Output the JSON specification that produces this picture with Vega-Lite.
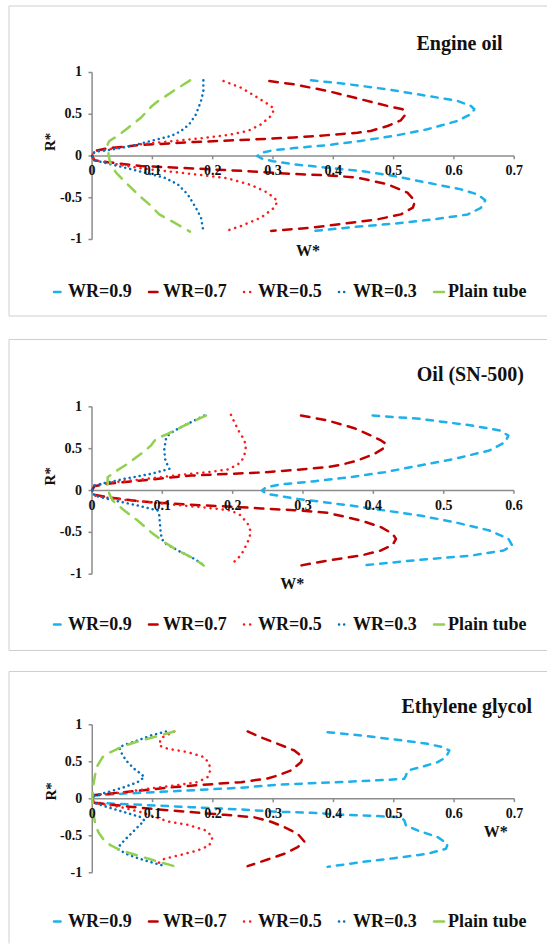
{
  "$schema": "https://vega.github.io/schema/vega-lite/v6.json",
  "background": "white",
  "padding": {"left": 8, "top": 5, "right": 0, "bottom": 0},
  "config": {
    "view": {"stroke": null},
    "axis": {"disable": true},
    "legend": {"labelFont": "Liberation Serif", "labelFontWeight": "bold", "labelFontSize": 18, "labelColor": "#111", "symbolType": "stroke", "symbolSize": 100, "symbolStrokeWidth": 2.5, "labelOffset": 0, "columnPadding": 12, "padding": 0},
    "text": {"font": "Liberation Serif", "fontWeight": "bold", "color": "#111"}
  },
  "resolve": {"scale": {"color": "independent", "strokeDash": "independent"}, "legend": {"color": "independent", "strokeDash": "independent"}},
  "datasets": {
    "one": [{}],
    "yt": [{"v": 1, "t": "1"}, {"v": 0.5, "t": "0.5"}, {"v": 0, "t": "0"}, {"v": -0.5, "t": "-0.5"}, {"v": -1, "t": "-1"}],
    "xt7": [{"v": 0, "t": "0"}, {"v": 0.1, "t": "0.1"}, {"v": 0.2, "t": "0.2"}, {"v": 0.3, "t": "0.3"}, {"v": 0.4, "t": "0.4"}, {"v": 0.5, "t": "0.5"}, {"v": 0.6, "t": "0.6"}, {"v": 0.7, "t": "0.7"}],
    "xt6": [{"v": 0, "t": "0"}, {"v": 0.1, "t": "0.1"}, {"v": 0.2, "t": "0.2"}, {"v": 0.3, "t": "0.3"}, {"v": 0.4, "t": "0.4"}, {"v": 0.5, "t": "0.5"}, {"v": 0.6, "t": "0.6"}],
    "oil": [
      {"s":"WR=0.9","w":0.363,"r":0.906},{"s":"WR=0.9","w":0.418,"r":0.866},{"s":"WR=0.9","w":0.49,"r":0.798},{"s":"WR=0.9","w":0.556,"r":0.72},{"s":"WR=0.9","w":0.606,"r":0.66},{"s":"WR=0.9","w":0.628,"r":0.6},{"s":"WR=0.9","w":0.634,"r":0.56},{"s":"WR=0.9","w":0.628,"r":0.5},{"s":"WR=0.9","w":0.606,"r":0.42},{"s":"WR=0.9","w":0.556,"r":0.32},{"s":"WR=0.9","w":0.5,"r":0.24},{"s":"WR=0.9","w":0.445,"r":0.18},{"s":"WR=0.9","w":0.39,"r":0.13},{"s":"WR=0.9","w":0.335,"r":0.095},{"s":"WR=0.9","w":0.3,"r":0.068},{"s":"WR=0.9","w":0.281,"r":0.04},{"s":"WR=0.9","w":0.274,"r":0},{"s":"WR=0.9","w":0.281,"r":-0.03},{"s":"WR=0.9","w":0.3,"r":-0.062},{"s":"WR=0.9","w":0.335,"r":-0.1},{"s":"WR=0.9","w":0.39,"r":-0.14},{"s":"WR=0.9","w":0.446,"r":-0.18},{"s":"WR=0.9","w":0.501,"r":-0.24},{"s":"WR=0.9","w":0.556,"r":-0.32},{"s":"WR=0.9","w":0.612,"r":-0.4},{"s":"WR=0.9","w":0.639,"r":-0.46},{"s":"WR=0.9","w":0.652,"r":-0.53},{"s":"WR=0.9","w":0.645,"r":-0.62},{"s":"WR=0.9","w":0.623,"r":-0.7},{"s":"WR=0.9","w":0.568,"r":-0.758},{"s":"WR=0.9","w":0.501,"r":-0.81},{"s":"WR=0.9","w":0.435,"r":-0.85},{"s":"WR=0.9","w":0.368,"r":-0.898},
      {"s":"WR=0.7","w":0.294,"r":0.898},{"s":"WR=0.7","w":0.335,"r":0.858},{"s":"WR=0.7","w":0.391,"r":0.778},{"s":"WR=0.7","w":0.446,"r":0.679},{"s":"WR=0.7","w":0.49,"r":0.599},{"s":"WR=0.7","w":0.515,"r":0.559},{"s":"WR=0.7","w":0.52,"r":0.5},{"s":"WR=0.7","w":0.512,"r":0.427},{"s":"WR=0.7","w":0.49,"r":0.359},{"s":"WR=0.7","w":0.462,"r":0.3},{"s":"WR=0.7","w":0.44,"r":0.278},{"s":"WR=0.7","w":0.391,"r":0.25},{"s":"WR=0.7","w":0.335,"r":0.222},{"s":"WR=0.7","w":0.258,"r":0.195},{"s":"WR=0.7","w":0.17,"r":0.168},{"s":"WR=0.7","w":0.081,"r":0.132},{"s":"WR=0.7","w":0.026,"r":0.092},{"s":"WR=0.7","w":0.004,"r":0.06},{"s":"WR=0.7","w":0,"r":0},{"s":"WR=0.7","w":0.004,"r":-0.052},{"s":"WR=0.7","w":0.026,"r":-0.074},{"s":"WR=0.7","w":0.081,"r":-0.12},{"s":"WR=0.7","w":0.17,"r":-0.15},{"s":"WR=0.7","w":0.258,"r":-0.182},{"s":"WR=0.7","w":0.335,"r":-0.215},{"s":"WR=0.7","w":0.391,"r":-0.232},{"s":"WR=0.7","w":0.44,"r":-0.259},{"s":"WR=0.7","w":0.49,"r":-0.339},{"s":"WR=0.7","w":0.523,"r":-0.439},{"s":"WR=0.7","w":0.5355,"r":-0.539},{"s":"WR=0.7","w":0.532,"r":-0.619},{"s":"WR=0.7","w":0.512,"r":-0.699},{"s":"WR=0.7","w":0.4735,"r":-0.758},{"s":"WR=0.7","w":0.418,"r":-0.81},{"s":"WR=0.7","w":0.363,"r":-0.858},{"s":"WR=0.7","w":0.297,"r":-0.898},
      {"s":"WR=0.5","w":0.218,"r":0.898},{"s":"WR=0.5","w":0.247,"r":0.818},{"s":"WR=0.5","w":0.2745,"r":0.699},{"s":"WR=0.5","w":0.2966,"r":0.599},{"s":"WR=0.5","w":0.302,"r":0.559},{"s":"WR=0.5","w":0.2966,"r":0.479},{"s":"WR=0.5","w":0.28,"r":0.379},{"s":"WR=0.5","w":0.258,"r":0.299},{"s":"WR=0.5","w":0.2248,"r":0.251},{"s":"WR=0.5","w":0.1805,"r":0.212},{"s":"WR=0.5","w":0.1364,"r":0.18},{"s":"WR=0.5","w":0.081,"r":0.14},{"s":"WR=0.5","w":0.037,"r":0.092},{"s":"WR=0.5","w":0.004,"r":0.052},{"s":"WR=0.5","w":0,"r":0},{"s":"WR=0.5","w":0.004,"r":-0.052},{"s":"WR=0.5","w":0.042,"r":-0.1},{"s":"WR=0.5","w":0.081,"r":-0.148},{"s":"WR=0.5","w":0.136,"r":-0.192},{"s":"WR=0.5","w":0.1805,"r":-0.228},{"s":"WR=0.5","w":0.2248,"r":-0.267},{"s":"WR=0.5","w":0.2635,"r":-0.347},{"s":"WR=0.5","w":0.2911,"r":-0.439},{"s":"WR=0.5","w":0.3077,"r":-0.539},{"s":"WR=0.5","w":0.302,"r":-0.619},{"s":"WR=0.5","w":0.28,"r":-0.739},{"s":"WR=0.5","w":0.247,"r":-0.838},{"s":"WR=0.5","w":0.222,"r":-0.898},
      {"s":"WR=0.3","w":0.1845,"r":0.906},{"s":"WR=0.3","w":0.1845,"r":0.778},{"s":"WR=0.3","w":0.1806,"r":0.659},{"s":"WR=0.3","w":0.1723,"r":0.499},{"s":"WR=0.3","w":0.161,"r":0.379},{"s":"WR=0.3","w":0.1474,"r":0.299},{"s":"WR=0.3","w":0.131,"r":0.24},{"s":"WR=0.3","w":0.0977,"r":0.18},{"s":"WR=0.3","w":0.0645,"r":0.12},{"s":"WR=0.3","w":0.0258,"r":0.068},{"s":"WR=0.3","w":0.004,"r":0.052},{"s":"WR=0.3","w":0,"r":0},{"s":"WR=0.3","w":0.004,"r":-0.052},{"s":"WR=0.3","w":0.0314,"r":-0.1},{"s":"WR=0.3","w":0.059,"r":-0.148},{"s":"WR=0.3","w":0.092,"r":-0.208},{"s":"WR=0.3","w":0.12,"r":-0.259},{"s":"WR=0.3","w":0.142,"r":-0.339},{"s":"WR=0.3","w":0.1585,"r":-0.459},{"s":"WR=0.3","w":0.172,"r":-0.619},{"s":"WR=0.3","w":0.1806,"r":-0.739},{"s":"WR=0.3","w":0.1845,"r":-0.898},
      {"s":"Plain tube","w":0.1625,"r":0.906},{"s":"Plain tube","w":0.1364,"r":0.786},{"s":"Plain tube","w":0.1098,"r":0.659},{"s":"Plain tube","w":0.0993,"r":0.599},{"s":"Plain tube","w":0.081,"r":0.459},{"s":"Plain tube","w":0.06,"r":0.339},{"s":"Plain tube","w":0.0424,"r":0.24},{"s":"Plain tube","w":0.0286,"r":0.18},{"s":"Plain tube","w":0.0258,"r":0.14},{"s":"Plain tube","w":0.0275,"r":0},{"s":"Plain tube","w":0.0302,"r":-0.08},{"s":"Plain tube","w":0.0397,"r":-0.2},{"s":"Plain tube","w":0.0562,"r":-0.319},{"s":"Plain tube","w":0.0756,"r":-0.459},{"s":"Plain tube","w":0.0949,"r":-0.579},{"s":"Plain tube","w":0.1115,"r":-0.699},{"s":"Plain tube","w":0.1364,"r":-0.798},{"s":"Plain tube","w":0.1625,"r":-0.906}
    ],
    "sn500": [
      {"s":"WR=0.9","w":0.399,"r":0.896},{"s":"WR=0.9","w":0.466,"r":0.857},{"s":"WR=0.9","w":0.54,"r":0.777},{"s":"WR=0.9","w":0.58,"r":0.717},{"s":"WR=0.9","w":0.592,"r":0.657},{"s":"WR=0.9","w":0.5875,"r":0.578},{"s":"WR=0.9","w":0.565,"r":0.478},{"s":"WR=0.9","w":0.5156,"r":0.379},{"s":"WR=0.9","w":0.466,"r":0.299},{"s":"WR=0.9","w":0.4163,"r":0.219},{"s":"WR=0.9","w":0.3667,"r":0.159},{"s":"WR=0.9","w":0.317,"r":0.111},{"s":"WR=0.9","w":0.2675,"r":0.072},{"s":"WR=0.9","w":0.2477,"r":0.04},{"s":"WR=0.9","w":0.2417,"r":0},{"s":"WR=0.9","w":0.2477,"r":-0.04},{"s":"WR=0.9","w":0.2923,"r":-0.1},{"s":"WR=0.9","w":0.3668,"r":-0.179},{"s":"WR=0.9","w":0.4163,"r":-0.239},{"s":"WR=0.9","w":0.466,"r":-0.299},{"s":"WR=0.9","w":0.5156,"r":-0.379},{"s":"WR=0.9","w":0.565,"r":-0.478},{"s":"WR=0.9","w":0.592,"r":-0.578},{"s":"WR=0.9","w":0.5975,"r":-0.657},{"s":"WR=0.9","w":0.585,"r":-0.717},{"s":"WR=0.9","w":0.54,"r":-0.777},{"s":"WR=0.9","w":0.466,"r":-0.829},{"s":"WR=0.9","w":0.384,"r":-0.896},
      {"s":"WR=0.7","w":0.2972,"r":0.896},{"s":"WR=0.7","w":0.3351,"r":0.837},{"s":"WR=0.7","w":0.373,"r":0.745},{"s":"WR=0.7","w":0.3967,"r":0.657},{"s":"WR=0.7","w":0.4109,"r":0.598},{"s":"WR=0.7","w":0.418,"r":0.558},{"s":"WR=0.7","w":0.4133,"r":0.498},{"s":"WR=0.7","w":0.4014,"r":0.438},{"s":"WR=0.7","w":0.3777,"r":0.359},{"s":"WR=0.7","w":0.354,"r":0.307},{"s":"WR=0.7","w":0.3351,"r":0.279},{"s":"WR=0.7","w":0.2877,"r":0.245},{"s":"WR=0.7","w":0.2403,"r":0.215},{"s":"WR=0.7","w":0.1408,"r":0.179},{"s":"WR=0.7","w":0.0697,"r":0.12},{"s":"WR=0.7","w":0.0223,"r":0.08},{"s":"WR=0.7","w":0.0033,"r":0.052},{"s":"WR=0.7","w":0,"r":0},{"s":"WR=0.7","w":0.0033,"r":-0.052},{"s":"WR=0.7","w":0.0223,"r":-0.08},{"s":"WR=0.7","w":0.0697,"r":-0.131},{"s":"WR=0.7","w":0.1408,"r":-0.171},{"s":"WR=0.7","w":0.2118,"r":-0.199},{"s":"WR=0.7","w":0.2403,"r":-0.215},{"s":"WR=0.7","w":0.2877,"r":-0.235},{"s":"WR=0.7","w":0.3351,"r":-0.267},{"s":"WR=0.7","w":0.3825,"r":-0.359},{"s":"WR=0.7","w":0.4109,"r":-0.438},{"s":"WR=0.7","w":0.4275,"r":-0.518},{"s":"WR=0.7","w":0.4322,"r":-0.578},{"s":"WR=0.7","w":0.4275,"r":-0.649},{"s":"WR=0.7","w":0.4109,"r":-0.717},{"s":"WR=0.7","w":0.3825,"r":-0.777},{"s":"WR=0.7","w":0.3351,"r":-0.837},{"s":"WR=0.7","w":0.2972,"r":-0.896},
      {"s":"WR=0.5","w":0.1976,"r":0.904},{"s":"WR=0.5","w":0.2024,"r":0.817},{"s":"WR=0.5","w":0.2095,"r":0.697},{"s":"WR=0.5","w":0.2156,"r":0.618},{"s":"WR=0.5","w":0.219,"r":0.538},{"s":"WR=0.5","w":0.2166,"r":0.418},{"s":"WR=0.5","w":0.2118,"r":0.339},{"s":"WR=0.5","w":0.2047,"r":0.299},{"s":"WR=0.5","w":0.1929,"r":0.251},{"s":"WR=0.5","w":0.1645,"r":0.219},{"s":"WR=0.5","w":0.1171,"r":0.179},{"s":"WR=0.5","w":0.0697,"r":0.131},{"s":"WR=0.5","w":0.0223,"r":0.092},{"s":"WR=0.5","w":0.0033,"r":0.06},{"s":"WR=0.5","w":0,"r":0},{"s":"WR=0.5","w":0.0033,"r":-0.06},{"s":"WR=0.5","w":0.0318,"r":-0.1},{"s":"WR=0.5","w":0.0697,"r":-0.131},{"s":"WR=0.5","w":0.1171,"r":-0.171},{"s":"WR=0.5","w":0.1645,"r":-0.207},{"s":"WR=0.5","w":0.1976,"r":-0.239},{"s":"WR=0.5","w":0.2118,"r":-0.299},{"s":"WR=0.5","w":0.2213,"r":-0.398},{"s":"WR=0.5","w":0.2261,"r":-0.498},{"s":"WR=0.5","w":0.2213,"r":-0.618},{"s":"WR=0.5","w":0.2142,"r":-0.737},{"s":"WR=0.5","w":0.2071,"r":-0.817},{"s":"WR=0.5","w":0.2014,"r":-0.857},
      {"s":"WR=0.3","w":0.1597,"r":0.896},{"s":"WR=0.3","w":0.1408,"r":0.817},{"s":"WR=0.3","w":0.1218,"r":0.737},{"s":"WR=0.3","w":0.11,"r":0.677},{"s":"WR=0.3","w":0.1052,"r":0.618},{"s":"WR=0.3","w":0.1028,"r":0.498},{"s":"WR=0.3","w":0.1038,"r":0.378},{"s":"WR=0.3","w":0.1076,"r":0.299},{"s":"WR=0.3","w":0.11,"r":0.259},{"s":"WR=0.3","w":0.0839,"r":0.199},{"s":"WR=0.3","w":0.046,"r":0.139},{"s":"WR=0.3","w":0.0128,"r":0.08},{"s":"WR=0.3","w":0.0033,"r":0.06},{"s":"WR=0.3","w":0,"r":0},{"s":"WR=0.3","w":0.0033,"r":-0.06},{"s":"WR=0.3","w":0.0318,"r":-0.12},{"s":"WR=0.3","w":0.0649,"r":-0.179},{"s":"WR=0.3","w":0.0934,"r":-0.239},{"s":"WR=0.3","w":0.0957,"r":-0.299},{"s":"WR=0.3","w":0.0972,"r":-0.458},{"s":"WR=0.3","w":0.099,"r":-0.578},{"s":"WR=0.3","w":0.1052,"r":-0.637},{"s":"WR=0.3","w":0.1265,"r":-0.737},{"s":"WR=0.3","w":0.1455,"r":-0.817},{"s":"WR=0.3","w":0.1597,"r":-0.896},
      {"s":"Plain tube","w":0.162,"r":0.896},{"s":"Plain tube","w":0.1313,"r":0.777},{"s":"Plain tube","w":0.1076,"r":0.677},{"s":"Plain tube","w":0.091,"r":0.618},{"s":"Plain tube","w":0.0839,"r":0.538},{"s":"Plain tube","w":0.0697,"r":0.438},{"s":"Plain tube","w":0.0507,"r":0.319},{"s":"Plain tube","w":0.0318,"r":0.219},{"s":"Plain tube","w":0.0223,"r":0.159},{"s":"Plain tube","w":0.0223,"r":0.08},{"s":"Plain tube","w":0.0246,"r":-0.04},{"s":"Plain tube","w":0.0294,"r":-0.12},{"s":"Plain tube","w":0.046,"r":-0.239},{"s":"Plain tube","w":0.0649,"r":-0.359},{"s":"Plain tube","w":0.0839,"r":-0.498},{"s":"Plain tube","w":0.1028,"r":-0.618},{"s":"Plain tube","w":0.1218,"r":-0.717},{"s":"Plain tube","w":0.1455,"r":-0.817},{"s":"Plain tube","w":0.1588,"r":-0.896}
    ],
    "eg": [
      {"s":"WR=0.9","w":0.3903,"r":0.9},{"s":"WR=0.9","w":0.4456,"r":0.856},{"s":"WR=0.9","w":0.5009,"r":0.802},{"s":"WR=0.9","w":0.5562,"r":0.743},{"s":"WR=0.9","w":0.5811,"r":0.698},{"s":"WR=0.9","w":0.5921,"r":0.653},{"s":"WR=0.9","w":0.5866,"r":0.563},{"s":"WR=0.9","w":0.5728,"r":0.495},{"s":"WR=0.9","w":0.5451,"r":0.428},{"s":"WR=0.9","w":0.523,"r":0.383},{"s":"WR=0.9","w":0.5202,"r":0.315},{"s":"WR=0.9","w":0.5175,"r":0.27},{"s":"WR=0.9","w":0.4733,"r":0.25},{"s":"WR=0.9","w":0.4181,"r":0.228},{"s":"WR=0.9","w":0.3628,"r":0.21},{"s":"WR=0.9","w":0.3075,"r":0.19},{"s":"WR=0.9","w":0.2466,"r":0.15},{"s":"WR=0.9","w":0.136,"r":0.103},{"s":"WR=0.9","w":0.0531,"r":0.07},{"s":"WR=0.9","w":0.0033,"r":0.045},{"s":"WR=0.9","w":0,"r":0},{"s":"WR=0.9","w":0.0033,"r":-0.054},{"s":"WR=0.9","w":0.0807,"r":-0.081},{"s":"WR=0.9","w":0.1636,"r":-0.113},{"s":"WR=0.9","w":0.2466,"r":-0.144},{"s":"WR=0.9","w":0.3075,"r":-0.175},{"s":"WR=0.9","w":0.3628,"r":-0.189},{"s":"WR=0.9","w":0.4181,"r":-0.216},{"s":"WR=0.9","w":0.4733,"r":-0.234},{"s":"WR=0.9","w":0.512,"r":-0.248},{"s":"WR=0.9","w":0.5175,"r":-0.293},{"s":"WR=0.9","w":0.5202,"r":-0.36},{"s":"WR=0.9","w":0.5396,"r":-0.428},{"s":"WR=0.9","w":0.5728,"r":-0.518},{"s":"WR=0.9","w":0.5894,"r":-0.608},{"s":"WR=0.9","w":0.5866,"r":-0.676},{"s":"WR=0.9","w":0.5562,"r":-0.743},{"s":"WR=0.9","w":0.5009,"r":-0.802},{"s":"WR=0.9","w":0.4456,"r":-0.856},{"s":"WR=0.9","w":0.3903,"r":-0.92},
      {"s":"WR=0.7","w":0.2576,"r":0.91},{"s":"WR=0.7","w":0.2798,"r":0.83},{"s":"WR=0.7","w":0.3075,"r":0.743},{"s":"WR=0.7","w":0.3351,"r":0.653},{"s":"WR=0.7","w":0.349,"r":0.563},{"s":"WR=0.7","w":0.3462,"r":0.495},{"s":"WR=0.7","w":0.3296,"r":0.383},{"s":"WR=0.7","w":0.3075,"r":0.315},{"s":"WR=0.7","w":0.2908,"r":0.275},{"s":"WR=0.7","w":0.2466,"r":0.225},{"s":"WR=0.7","w":0.1913,"r":0.194},{"s":"WR=0.7","w":0.136,"r":0.158},{"s":"WR=0.7","w":0.0807,"r":0.113},{"s":"WR=0.7","w":0.0254,"r":0.068},{"s":"WR=0.7","w":0.0033,"r":0.05},{"s":"WR=0.7","w":0,"r":0},{"s":"WR=0.7","w":0.0033,"r":-0.054},{"s":"WR=0.7","w":0.0531,"r":-0.099},{"s":"WR=0.7","w":0.1083,"r":-0.144},{"s":"WR=0.7","w":0.1636,"r":-0.18},{"s":"WR=0.7","w":0.2189,"r":-0.216},{"s":"WR=0.7","w":0.2687,"r":-0.25},{"s":"WR=0.7","w":0.2964,"r":-0.31},{"s":"WR=0.7","w":0.3185,"r":-0.383},{"s":"WR=0.7","w":0.3406,"r":-0.473},{"s":"WR=0.7","w":0.3517,"r":-0.577},{"s":"WR=0.7","w":0.3406,"r":-0.653},{"s":"WR=0.7","w":0.3185,"r":-0.743},{"s":"WR=0.7","w":0.2908,"r":-0.82},{"s":"WR=0.7","w":0.2576,"r":-0.91},
      {"s":"WR=0.5","w":0.136,"r":0.91},{"s":"WR=0.5","w":0.1138,"r":0.82},{"s":"WR=0.5","w":0.1111,"r":0.72},{"s":"WR=0.5","w":0.125,"r":0.676},{"s":"WR=0.5","w":0.1581,"r":0.631},{"s":"WR=0.5","w":0.1857,"r":0.563},{"s":"WR=0.5","w":0.194,"r":0.473},{"s":"WR=0.5","w":0.1957,"r":0.383},{"s":"WR=0.5","w":0.1913,"r":0.293},{"s":"WR=0.5","w":0.1747,"r":0.225},{"s":"WR=0.5","w":0.136,"r":0.18},{"s":"WR=0.5","w":0.0918,"r":0.135},{"s":"WR=0.5","w":0.0476,"r":0.081},{"s":"WR=0.5","w":0.0033,"r":0.048},{"s":"WR=0.5","w":0,"r":0},{"s":"WR=0.5","w":0.0033,"r":-0.054},{"s":"WR=0.5","w":0.0476,"r":-0.113},{"s":"WR=0.5","w":0.0807,"r":-0.18},{"s":"WR=0.5","w":0.0973,"r":-0.225},{"s":"WR=0.5","w":0.125,"r":-0.306},{"s":"WR=0.5","w":0.1581,"r":-0.351},{"s":"WR=0.5","w":0.1885,"r":-0.428},{"s":"WR=0.5","w":0.1996,"r":-0.518},{"s":"WR=0.5","w":0.194,"r":-0.631},{"s":"WR=0.5","w":0.1747,"r":-0.698},{"s":"WR=0.5","w":0.147,"r":-0.757},{"s":"WR=0.5","w":0.1194,"r":-0.811},{"s":"WR=0.5","w":0.1056,"r":-0.892},
      {"s":"WR=0.3","w":0.1222,"r":0.91},{"s":"WR=0.3","w":0.0973,"r":0.856},{"s":"WR=0.3","w":0.0752,"r":0.788},{"s":"WR=0.3","w":0.0586,"r":0.743},{"s":"WR=0.3","w":0.0448,"r":0.698},{"s":"WR=0.3","w":0.0476,"r":0.631},{"s":"WR=0.3","w":0.0559,"r":0.518},{"s":"WR=0.3","w":0.0697,"r":0.405},{"s":"WR=0.3","w":0.0807,"r":0.338},{"s":"WR=0.3","w":0.0863,"r":0.293},{"s":"WR=0.3","w":0.0752,"r":0.225},{"s":"WR=0.3","w":0.0531,"r":0.158},{"s":"WR=0.3","w":0.0254,"r":0.09},{"s":"WR=0.3","w":0.0033,"r":0.045},{"s":"WR=0.3","w":0,"r":0},{"s":"WR=0.3","w":0.0033,"r":-0.054},{"s":"WR=0.3","w":0.0254,"r":-0.113},{"s":"WR=0.3","w":0.0531,"r":-0.18},{"s":"WR=0.3","w":0.0807,"r":-0.248},{"s":"WR=0.3","w":0.0863,"r":-0.293},{"s":"WR=0.3","w":0.0752,"r":-0.383},{"s":"WR=0.3","w":0.0614,"r":-0.495},{"s":"WR=0.3","w":0.0476,"r":-0.608},{"s":"WR=0.3","w":0.042,"r":-0.676},{"s":"WR=0.3","w":0.0559,"r":-0.743},{"s":"WR=0.3","w":0.0752,"r":-0.802},{"s":"WR=0.3","w":0.0973,"r":-0.856},{"s":"WR=0.3","w":0.1166,"r":-0.9},
      {"s":"Plain tube","w":0.136,"r":0.91},{"s":"Plain tube","w":0.1083,"r":0.847},{"s":"Plain tube","w":0.0807,"r":0.788},{"s":"Plain tube","w":0.0586,"r":0.73},{"s":"Plain tube","w":0.042,"r":0.676},{"s":"Plain tube","w":0.0282,"r":0.622},{"s":"Plain tube","w":0.0171,"r":0.563},{"s":"Plain tube","w":0.0088,"r":0.45},{"s":"Plain tube","w":0.0044,"r":0.315},{"s":"Plain tube","w":0.0017,"r":0.18},{"s":"Plain tube","w":0,"r":0},{"s":"Plain tube","w":0.0017,"r":-0.18},{"s":"Plain tube","w":0.0044,"r":-0.315},{"s":"Plain tube","w":0.0099,"r":-0.45},{"s":"Plain tube","w":0.0199,"r":-0.563},{"s":"Plain tube","w":0.031,"r":-0.631},{"s":"Plain tube","w":0.0476,"r":-0.698},{"s":"Plain tube","w":0.0752,"r":-0.766},{"s":"Plain tube","w":0.1028,"r":-0.833},{"s":"Plain tube","w":0.136,"r":-0.91}
    ]
  },
  "spacing": 21.5,
  "vconcat": [
    {
      "width": 538,
      "height": 310,
      "layer": [
        {"data": {"name": "one"}, "mark": {"type": "rule", "color": "#cfcfcf", "strokeWidth": 1}, "encoding": {"x": {"datum": -0.1378}, "y": {"datum": -1.9162}, "y2": {"datum": 1.7964}}},
        {"data": {"name": "one"}, "mark": {"type": "rule", "color": "#cfcfcf", "strokeWidth": 1}, "encoding": {"y": {"datum": 1.7964}, "x": {"datum": -0.1378}, "x2": {"datum": 0.7544}}},
        {"data": {"name": "one"}, "mark": {"type": "rule", "color": "#cfcfcf", "strokeWidth": 1}, "encoding": {"y": {"datum": -1.9162}, "x": {"datum": -0.1378}, "x2": {"datum": 0.7544}}},
        {"data": {"name": "one"}, "mark": {"type": "rule", "color": "#8c8c8c", "strokeWidth": 1.5}, "encoding": {"x": {"datum": 0}, "y": {"datum": -1}, "y2": {"datum": 1}}},
        {"data": {"name": "one"}, "mark": {"type": "rule", "color": "#8c8c8c", "strokeWidth": 1.5}, "encoding": {"y": {"datum": 0}, "x": {"datum": 0}, "x2": {"datum": 0.7}}},
        {"data": {"name": "yt"}, "mark": {"type": "rule", "color": "#8c8c8c", "strokeWidth": 1.5}, "encoding": {"y": {"field": "v", "type": "quantitative"}, "x": {"datum": -0.006}, "x2": {"datum": 0}}},
        {"data": {"name": "xt7"}, "mark": {"type": "rule", "color": "#8c8c8c", "strokeWidth": 1.5}, "encoding": {"x": {"field": "v", "type": "quantitative"}, "y": {"datum": 0}, "y2": {"datum": -0.04}}},
        {
          "data": {"name": "oil"},
          "mark": {"type": "line", "strokeWidth": 2.5, "strokeCap": "round", "strokeJoin": "round"},
          "encoding": {
            "x": {"field": "w", "type": "quantitative", "scale": {"domain": [-0.1378, 0.7544], "nice": false, "zero": false}},
            "y": {"field": "r", "type": "quantitative", "scale": {"domain": [-1.9162, 1.7964], "nice": false, "zero": false}},
            "order": {"field": "r", "sort": "descending"},
            "color": {"field": "s", "type": "nominal", "scale": {"domain": ["WR=0.9", "WR=0.7", "WR=0.5", "WR=0.3", "Plain tube"], "range": ["#1cb0ec", "#c00000", "#ff1a1a", "#0070c0", "#92d050"]}, "legend": {"orient": "none", "legendX": 41, "legendY": 277, "direction": "horizontal", "title": null, "encode": {"symbols": {"update": {"strokeCap": {"value": "round"}}}}}},
            "strokeDash": {"field": "s", "type": "nominal", "scale": {"domain": ["WR=0.9", "WR=0.7", "WR=0.5", "WR=0.3", "Plain tube"], "range": [[6.5, 7], [8.5, 7.5], [0.1, 6], [0.1, 5], [10.5, 8.5]]}, "legend": {"orient": "none", "legendX": 41, "legendY": 277, "direction": "horizontal", "title": null, "encode": {"symbols": {"update": {"strokeCap": {"value": "round"}}}}}}
          }
        },
        {"data": {"name": "yt"}, "mark": {"type": "text", "fontSize": 14, "align": "right", "baseline": "middle", "dx": -10}, "encoding": {"x": {"datum": 0}, "y": {"field": "v", "type": "quantitative"}, "text": {"field": "t"}}},
        {"data": {"name": "xt7"}, "mark": {"type": "text", "fontSize": 14, "align": "center", "baseline": "middle", "dy": 15.5}, "encoding": {"x": {"field": "v", "type": "quantitative"}, "y": {"datum": 0}, "text": {"field": "t"}}},
        {"data": {"name": "one"}, "mark": {"type": "text", "fontSize": 20, "align": "center", "baseline": "middle"}, "encoding": {"x": {"datum": 0.6093}, "y": {"datum": 1.341}, "text": {"value": "Engine oil"}}},
        {"data": {"name": "one"}, "mark": {"type": "text", "fontSize": 15, "angle": 270, "align": "center", "baseline": "middle"}, "encoding": {"x": {"datum": -0.069}, "y": {"datum": 0.17}, "text": {"value": "R*"}}},
        {"data": {"name": "one"}, "mark": {"type": "text", "fontSize": 16, "align": "center", "baseline": "middle"}, "encoding": {"x": {"datum": 0.358}, "y": {"datum": -1.138}, "text": {"value": "W*"}}}
      ]
    },
    {
      "spacing": 19,
      "resolve": {"scale": {"color": "independent", "strokeDash": "independent"}, "legend": {"color": "independent", "strokeDash": "independent"}},
      "vconcat": [
        {
          "width": 538,
          "height": 311,
          "layer": [
            {"data": {"name": "one"}, "mark": {"type": "rule", "color": "#cfcfcf", "strokeWidth": 1}, "encoding": {"x": {"datum": -0.118}, "y": {"datum": -1.9127}, "y2": {"datum": 1.8052}}},
            {"data": {"name": "one"}, "mark": {"type": "rule", "color": "#cfcfcf", "strokeWidth": 1}, "encoding": {"y": {"datum": 1.8052}, "x": {"datum": -0.118}, "x2": {"datum": 0.6469}}},
            {"data": {"name": "one"}, "mark": {"type": "rule", "color": "#cfcfcf", "strokeWidth": 1}, "encoding": {"y": {"datum": -1.9127}, "x": {"datum": -0.118}, "x2": {"datum": 0.6469}}},
            {"data": {"name": "one"}, "mark": {"type": "rule", "color": "#8c8c8c", "strokeWidth": 1.5}, "encoding": {"x": {"datum": 0}, "y": {"datum": -1}, "y2": {"datum": 1}}},
            {"data": {"name": "one"}, "mark": {"type": "rule", "color": "#8c8c8c", "strokeWidth": 1.5}, "encoding": {"y": {"datum": 0}, "x": {"datum": 0}, "x2": {"datum": 0.6}}},
            {"data": {"name": "yt"}, "mark": {"type": "rule", "color": "#8c8c8c", "strokeWidth": 1.5}, "encoding": {"y": {"field": "v", "type": "quantitative"}, "x": {"datum": -0.005}, "x2": {"datum": 0}}},
            {"data": {"name": "xt6"}, "mark": {"type": "rule", "color": "#8c8c8c", "strokeWidth": 1.5}, "encoding": {"x": {"field": "v", "type": "quantitative"}, "y": {"datum": 0}, "y2": {"datum": -0.04}}},
            {
              "data": {"name": "sn500"},
              "mark": {"type": "line", "strokeWidth": 2.5, "strokeCap": "round", "strokeJoin": "round"},
              "encoding": {
                "x": {"field": "w", "type": "quantitative", "scale": {"domain": [-0.118, 0.6469], "nice": false, "zero": false}},
                "y": {"field": "r", "type": "quantitative", "scale": {"domain": [-1.9127, 1.8052], "nice": false, "zero": false}},
                "order": {"field": "r", "sort": "descending"},
                "color": {"field": "s", "type": "nominal", "scale": {"domain": ["WR=0.9", "WR=0.7", "WR=0.5", "WR=0.3", "Plain tube"], "range": ["#1cb0ec", "#c00000", "#ff1a1a", "#0070c0", "#92d050"]}, "legend": {"orient": "none", "legendX": 41, "legendY": 276, "direction": "horizontal", "title": null, "encode": {"symbols": {"update": {"strokeCap": {"value": "round"}}}}}},
                "strokeDash": {"field": "s", "type": "nominal", "scale": {"domain": ["WR=0.9", "WR=0.7", "WR=0.5", "WR=0.3", "Plain tube"], "range": [[6.5, 7], [8.5, 7.5], [0.1, 6], [0.1, 5], [10.5, 8.5]]}, "legend": {"orient": "none", "legendX": 41, "legendY": 276, "direction": "horizontal", "title": null, "encode": {"symbols": {"update": {"strokeCap": {"value": "round"}}}}}}
              }
            },
            {"data": {"name": "yt"}, "mark": {"type": "text", "fontSize": 14, "align": "right", "baseline": "middle", "dx": -10}, "encoding": {"x": {"datum": 0}, "y": {"field": "v", "type": "quantitative"}, "text": {"field": "t"}}},
            {"data": {"name": "xt6"}, "mark": {"type": "text", "fontSize": 14, "align": "center", "baseline": "middle", "dy": 15.5}, "encoding": {"x": {"field": "v", "type": "quantitative"}, "y": {"datum": 0}, "text": {"field": "t"}}},
            {"data": {"name": "one"}, "mark": {"type": "text", "fontSize": 20, "align": "center", "baseline": "middle"}, "encoding": {"x": {"datum": 0.538}, "y": {"datum": 1.375}, "text": {"value": "Oil (SN-500)"}}},
            {"data": {"name": "one"}, "mark": {"type": "text", "fontSize": 15, "angle": 270, "align": "center", "baseline": "middle"}, "encoding": {"x": {"datum": -0.0591}, "y": {"datum": 0.17}, "text": {"value": "R*"}}},
            {"data": {"name": "one"}, "mark": {"type": "text", "fontSize": 16, "align": "center", "baseline": "middle"}, "encoding": {"x": {"datum": 0.2848}, "y": {"datum": -1.115}, "text": {"value": "W*"}}}
          ]
        },
        {
          "width": 538,
          "height": 272,
          "layer": [
            {"data": {"name": "one"}, "mark": {"type": "rule", "color": "#cfcfcf", "strokeWidth": 1}, "encoding": {"x": {"datum": -0.1381}, "y": {"datum": -1.9554}, "y2": {"datum": 1.7203}}},
            {"data": {"name": "one"}, "mark": {"type": "rule", "color": "#cfcfcf", "strokeWidth": 1}, "encoding": {"y": {"datum": 1.7203}, "x": {"datum": -0.1381}, "x2": {"datum": 0.7541}}},
            {"data": {"name": "one"}, "mark": {"type": "rule", "color": "#8c8c8c", "strokeWidth": 1.5}, "encoding": {"x": {"datum": 0}, "y": {"datum": -1}, "y2": {"datum": 1}}},
            {"data": {"name": "one"}, "mark": {"type": "rule", "color": "#8c8c8c", "strokeWidth": 1.5}, "encoding": {"y": {"datum": 0}, "x": {"datum": 0}, "x2": {"datum": 0.7}}},
            {"data": {"name": "yt"}, "mark": {"type": "rule", "color": "#8c8c8c", "strokeWidth": 1.5}, "encoding": {"y": {"field": "v", "type": "quantitative"}, "x": {"datum": -0.006}, "x2": {"datum": 0}}},
            {"data": {"name": "xt7"}, "mark": {"type": "rule", "color": "#8c8c8c", "strokeWidth": 1.5}, "encoding": {"x": {"field": "v", "type": "quantitative"}, "y": {"datum": 0}, "y2": {"datum": -0.045}}},
            {
              "data": {"name": "eg"},
              "mark": {"type": "line", "strokeWidth": 2.5, "strokeCap": "round", "strokeJoin": "round"},
              "encoding": {
                "x": {"field": "w", "type": "quantitative", "scale": {"domain": [-0.1381, 0.7541], "nice": false, "zero": false}},
                "y": {"field": "r", "type": "quantitative", "scale": {"domain": [-1.9554, 1.7203], "nice": false, "zero": false}},
                "order": {"field": "r", "sort": "descending"},
                "color": {"field": "s", "type": "nominal", "scale": {"domain": ["WR=0.9", "WR=0.7", "WR=0.5", "WR=0.3", "Plain tube"], "range": ["#1cb0ec", "#c00000", "#ff1a1a", "#0070c0", "#92d050"]}, "legend": {"orient": "none", "legendX": 41, "legendY": 241, "direction": "horizontal", "title": null, "encode": {"symbols": {"update": {"strokeCap": {"value": "round"}}}}}},
                "strokeDash": {"field": "s", "type": "nominal", "scale": {"domain": ["WR=0.9", "WR=0.7", "WR=0.5", "WR=0.3", "Plain tube"], "range": [[6.5, 7], [8.5, 7.5], [0.1, 6], [0.1, 5], [10.5, 8.5]]}, "legend": {"orient": "none", "legendX": 41, "legendY": 241, "direction": "horizontal", "title": null, "encode": {"symbols": {"update": {"strokeCap": {"value": "round"}}}}}}
              }
            },
            {"data": {"name": "yt"}, "mark": {"type": "text", "fontSize": 14, "align": "right", "baseline": "middle", "dx": -10}, "encoding": {"x": {"datum": 0}, "y": {"field": "v", "type": "quantitative"}, "text": {"field": "t"}}},
            {"data": {"name": "xt7"}, "mark": {"type": "text", "fontSize": 14, "align": "center", "baseline": "middle", "dy": 15}, "encoding": {"x": {"field": "v", "type": "quantitative"}, "y": {"datum": 0}, "text": {"field": "t"}}},
            {"data": {"name": "one"}, "mark": {"type": "text", "fontSize": 20, "align": "center", "baseline": "middle"}, "encoding": {"x": {"datum": 0.621}, "y": {"datum": 1.247}, "text": {"value": "Ethylene glycol"}}},
            {"data": {"name": "one"}, "mark": {"type": "text", "fontSize": 15, "angle": 270, "align": "center", "baseline": "middle"}, "encoding": {"x": {"datum": -0.0685}, "y": {"datum": 0.1}, "text": {"value": "R*"}}},
            {"data": {"name": "one"}, "mark": {"type": "text", "fontSize": 16, "align": "center", "baseline": "middle"}, "encoding": {"x": {"datum": 0.669}, "y": {"datum": -0.451}, "text": {"value": "W*"}}}
          ]
        }
      ]
    }
  ]
}
